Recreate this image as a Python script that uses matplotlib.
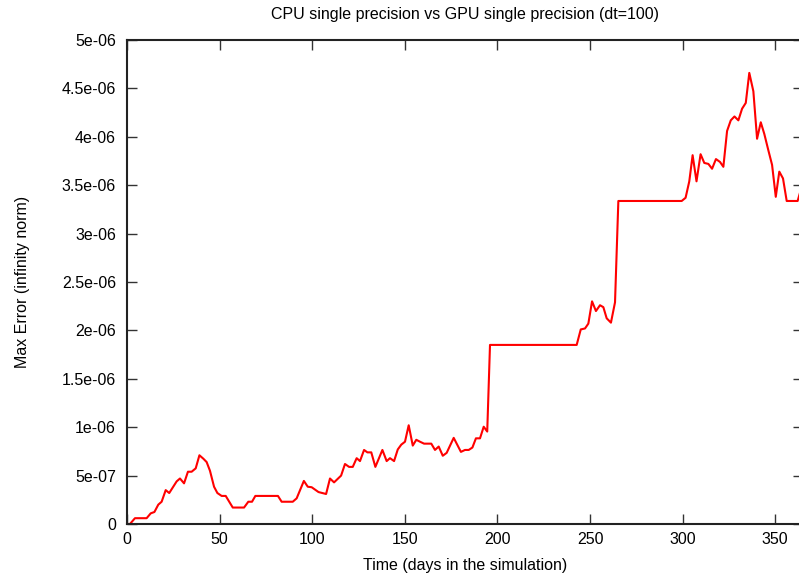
#!/usr/bin/env python3
"""
plot.py - Max error of GPU vs CPU single precision over the simulated year.
Gnuplot-like look: boxed axes, inward ticks, red line.
"""

import matplotlib
matplotlib.use("Agg")
import matplotlib.pyplot as plt

# values (days, max error)
days = [0, 1.6, 4.3, 10.6, 12.8, 14.8, 16.9, 18.7, 20.9, 22.8, 26.8, 28.6,
        30.8, 32.9, 34.9, 37.1, 39.1, 41.2, 43.0, 44.8, 47.0, 48.8, 51.1,
        53.3, 57.1, 63.2, 65.5, 67.5, 69.3, 81.5, 83.5, 89.5, 91.6, 95.5,
        97.6, 99.7, 103.4, 107.5, 109.6, 111.8, 115.6, 117.7, 119.9, 121.9,
        124.0, 125.8, 128.0, 129.8, 131.9, 134.1, 137.9, 140.2, 142.0, 144.2,
        146.2, 148.1, 150.1, 152.1, 154.3, 156.2, 158.2, 160.4, 164.3, 166.3,
        168.3, 170.5, 172.6, 176.4, 180.3, 182.5, 184.5, 186.5, 188.4, 190.6,
        192.6, 194.5, 196.0, 242.8, 245.0, 247.3, 249.1, 251.1, 253.2, 255.4,
        257.2, 259.0, 261.3, 263.5, 265.3, 299.5, 301.6, 303.6, 305.4, 307.5,
        309.7, 311.7, 313.9, 315.9, 318.0, 320.2, 322.0, 324.0, 326.0, 328.0,
        330.1, 332.1, 334.1, 336.0, 338.2, 340.2, 342.2, 344.1, 346.3, 348.3,
        350.3, 352.2, 354.2, 356.2, 362.1, 363.5]
err_e6 = [0, 0, 0.06, 0.06, 0.11, 0.124, 0.2, 0.23, 0.35, 0.32, 0.44, 0.47,
          0.42, 0.54, 0.54, 0.575, 0.71, 0.675, 0.64, 0.55, 0.385, 0.32, 0.29,
          0.29, 0.17, 0.17, 0.23, 0.23, 0.29, 0.29, 0.23, 0.23, 0.265, 0.445,
          0.385, 0.38, 0.33, 0.31, 0.47, 0.43, 0.50, 0.62, 0.59, 0.59,
          0.68, 0.65, 0.765, 0.74, 0.74, 0.59, 0.765, 0.65, 0.68, 0.65,
          0.77, 0.82, 0.85, 1.02, 0.81, 0.87, 0.85, 0.83, 0.83, 0.765,
          0.80, 0.705, 0.735, 0.89, 0.745, 0.765, 0.765, 0.79, 0.885, 0.885,
          1.005, 0.955, 1.85, 1.85, 2.01, 2.02, 2.07, 2.30, 2.20, 2.26,
          2.24, 2.125, 2.08, 2.29, 3.337, 3.337, 3.37, 3.54, 3.81, 3.54,
          3.82, 3.73, 3.72, 3.67, 3.77, 3.74, 3.69, 4.06, 4.17, 4.21,
          4.17, 4.29, 4.35, 4.66, 4.47, 3.98, 4.15, 4.03, 3.86, 3.71,
          3.38, 3.64, 3.57, 3.337, 3.337, 3.43]
err = [v * 1e-6 for v in err_e6]

x_ticks = [0, 50, 100, 150, 200, 250, 300, 350]
y_ticks = [0, 5e-7, 1e-6, 1.5e-6, 2e-6, 2.5e-6, 3e-6, 3.5e-6, 4e-6, 4.5e-6, 5e-6]
y_labels = ["0", "5e-07", "1e-06", "1.5e-06", "2e-06", "2.5e-06", "3e-06",
            "3.5e-06", "4e-06", "4.5e-06", "5e-06"]

plt.rcParams["font.family"] = ["Liberation Sans", "DejaVu Sans"]
plt.rcParams["font.size"] = 11.5

fig = plt.figure(figsize=(7.99, 5.77), dpi=100)
ax = fig.add_axes([127 / 799, 53 / 577, 676 / 799, 484 / 577])

ax.plot(days, err, color="#ff0000", linewidth=1.5)

ax.set_xlim(0, 365)
ax.set_ylim(0, 5e-6)
ax.set_xticks(x_ticks)
ax.set_yticks(y_ticks)
ax.set_yticklabels(y_labels)

ax.tick_params(direction="in", length=7, width=1, color="#333333",
               top=True, right=True, labelcolor="black")
ax.tick_params(axis="x", pad=6)
ax.tick_params(axis="y", pad=8)
for sp in ax.spines.values():
    sp.set_color("#222222")
    sp.set_linewidth(1.5)

ax.set_title("CPU single precision vs GPU single precision (dt=100)", pad=15,
             family=["Liberation Sans Narrow", "Liberation Sans"], fontsize=11.5)
ax.set_xlabel("Time (days in the simulation)", labelpad=8)
ax.set_ylabel("Max Error (infinity norm)")
ax.yaxis.set_label_coords(-0.144, 0.5)

fig.savefig("out.png", dpi=100)
